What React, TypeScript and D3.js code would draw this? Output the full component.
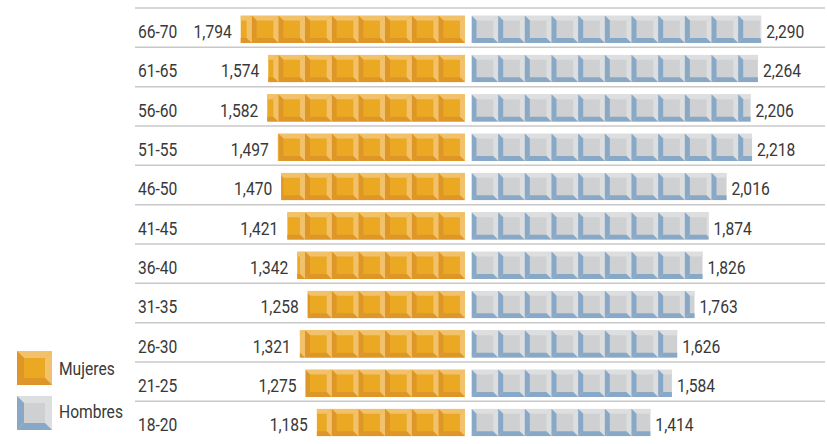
import React from "react";
import * as d3 from "d3";

const categories = ["66-70", "61-65", "56-60", "51-55", "46-50", "41-45", "36-40", "31-35", "26-30", "21-25", "18-20"];
const mujeres = [1794, 1574, 1582, 1497, 1470, 1421, 1342, 1258, 1321, 1275, 1185];
const hombres = [2290, 2264, 2206, 2218, 2016, 1874, 1826, 1763, 1626, 1584, 1414];
const seriesNames = ["Mujeres", "Hombres"];

const W = 827;
const H = 444;
const FONT = "Roboto, 'DejaVu Sans', sans-serif";
const TEXT = "#383838";
const FS = 18.6;
const SX = 0.84;

const FEMALE = { center: "#EBA823", light: "#F1C26B", dark: "#DF9628" };
const MALE = { center: "#CFD0D2", light: "#DDDEE0", dark: "#88A8C8" };

const fmt = d3.format(",");

function Label({ x, y, anchor = "start", children }: { x: number; y: number; anchor?: string; children: React.ReactNode }) {
  return (
    <text
      transform={`translate(${x},${y}) scale(${SX},1)`}
      textAnchor={anchor}
      fontFamily={FONT}
      fontSize={FS}
      fill={TEXT}
    >
      {children}
    </text>
  );
}

function Tile({ x, y, w, h, b, c }: { x: number; y: number; w: number; h: number; b: number; c: typeof FEMALE }) {
  const p = (pts: number[][]) => pts.map((q) => q.join(",")).join(" ");
  return (
    <g>
      <rect x={x} y={y} width={w} height={h} fill={c.center} />
      <polygon points={p([[x, y], [x + w, y], [x + w - b, y + b], [x + b, y + b]])} fill={c.light} />
      <polygon points={p([[x + w, y], [x + w, y + h], [x + w - b, y + h - b], [x + w - b, y + b]])} fill={c.light} />
      <polygon points={p([[x, y + h], [x + w, y + h], [x + w - b, y + h - b], [x + b, y + h - b]])} fill={c.dark} />
      <polygon points={p([[x, y], [x + b, y + b], [x + b, y + h - b], [x, y + h]])} fill={c.dark} />
    </g>
  );
}

export default function App() {
  const rowY = d3.scaleBand<string>().domain(categories).range([8, 8 + 39.33 * categories.length]).padding(0);
  const centerF = 465;
  const centerM = 471.5;
  const xF = d3.scaleLinear().domain([0, 2000]).range([0, 250]);
  const xM = d3.scaleLinear().domain([0, 2000]).range([0, 253]);
  const tw = 26.67;
  const bh = 27.5;
  const bev = 5;

  return (
    <svg width={W} height={H} style={{ position: "absolute", left: 0, top: 0, background: "#fff" }}>
      <defs>
        {categories.map((c, i) => {
          const y = (rowY(c) as number) + 7.5;
          const wf = xF(mujeres[i]);
          const wm = xM(hombres[i]);
          return (
            <React.Fragment key={c}>
              <clipPath id={`cf${i}`}>
                <rect x={centerF - wf} y={y} width={wf} height={bh} />
              </clipPath>
              <clipPath id={`cm${i}`}>
                <rect x={centerM} y={y} width={wm} height={bh} />
              </clipPath>
            </React.Fragment>
          );
        })}
      </defs>
      {categories.map((c) => {
        const y0 = rowY(c) as number;
        return <line key={"l" + c} x1={135} x2={825} y1={y0} y2={y0} stroke="#c8c8c8" strokeWidth={1.5} />;
      })}
      {categories.map((c, i) => {
        const y0 = rowY(c) as number;
        const y = y0 + 7.5;
        const wf = xF(mujeres[i]);
        const wm = xM(hombres[i]);
        const nf = Math.ceil(wf / tw);
        const nm = Math.ceil(wm / tw);
        return (
          <g key={c}>
            <Label x={138} y={y0 + 30}>{c}</Label>
            <g clipPath={`url(#cf${i})`}>
              {d3.range(nf).map((k) => (
                <Tile key={k} x={centerF - (k + 1) * tw} y={y} w={tw} h={bh} b={bev} c={FEMALE} />
              ))}
            </g>
            <g clipPath={`url(#cm${i})`}>
              {d3.range(nm).map((k) => (
                <Tile key={k} x={centerM + k * tw} y={y} w={tw} h={bh} b={bev} c={MALE} />
              ))}
            </g>
            <Label x={centerF - wf - 9} y={y0 + 30} anchor="end">{fmt(mujeres[i])}</Label>
            <Label x={centerM + wm + 5} y={y0 + 30}>{fmt(hombres[i])}</Label>
          </g>
        );
      })}
      <Tile x={17} y={351} w={35} h={34} b={7} c={FEMALE} />
      <Tile x={17} y={396} w={35} h={34} b={7} c={MALE} />
      <Label x={59} y={375}>{seriesNames[0]}</Label>
      <Label x={59} y={418}>{seriesNames[1]}</Label>
    </svg>
  );
}
